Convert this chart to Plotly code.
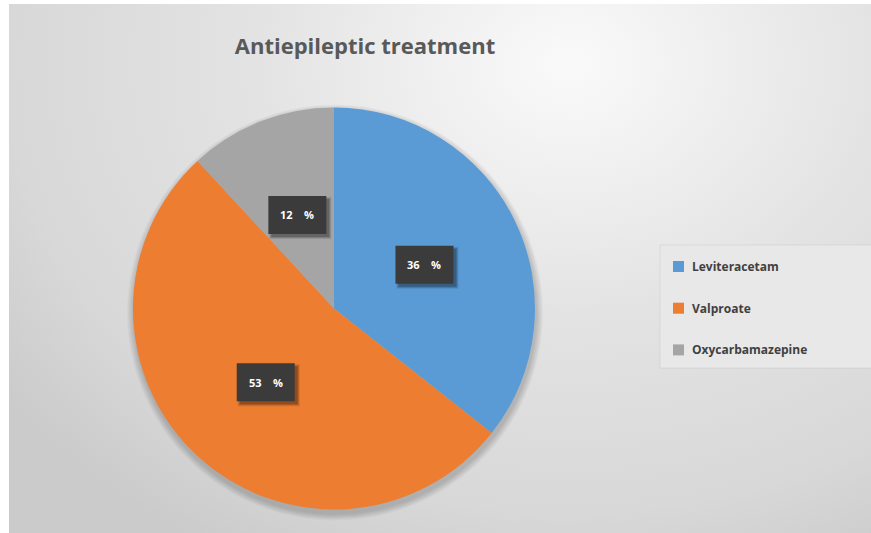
import base64
import math
import plotly.graph_objects as go

# --- data ---
labels = ["Leviteracetam", "Valproate", "Oxycarbamazepine"]
values = [36, 53, 12]
colors = ["#5B9BD5", "#ED7D31", "#A5A5A5"]
title_text = "Antiepileptic treatment"

# --- canvas geometry (pixels) ---
W, H = 871, 533
ML, MT = 9, 4
PW, PH = W - ML, H - MT          # plot area size
CX, CY, R = 325.0, 304.5, 201.0  # pie centre / radius inside the plot area
BLEED = 30                       # backdrop runs past the right/bottom edges

# soft radial backdrop, light near the top and greying toward the edges
bg_stops = [(0.0, "#fafafa"), (0.45, "#e3e3e3"), (0.8, "#d8d8d8"), (1.0, "#cbcbcb")]
stop_tags = "".join(f'<stop offset="{o}" stop-color="{c}"/>' for o, c in bg_stops)
BW_IMG, BH_IMG = PW + BLEED, PH + BLEED
bg_svg = (
    f'<svg xmlns="http://www.w3.org/2000/svg" width="{BW_IMG}" height="{BH_IMG}" '
    f'viewBox="0 0 {BW_IMG} {BH_IMG}" preserveAspectRatio="none"><defs>'
    f'<radialGradient id="g" gradientUnits="userSpaceOnUse" cx="0" cy="0" r="1" '
    f'gradientTransform="translate(560 60) scale(700 560)">{stop_tags}</radialGradient>'
    f'</defs><rect x="0" y="0" width="{BW_IMG}" height="{BH_IMG}" fill="url(#g)"/></svg>'
)
bg_uri = "data:image/svg+xml;base64," + base64.b64encode(bg_svg.encode()).decode()

fig = go.Figure()

# soft drop shadow under the pie
for k in range(1, 8):
    rr = R + k
    ts = [2 * math.pi * i / 180 for i in range(181)]
    fig.add_trace(go.Scatter(
        x=[CX + 1 + rr * math.sin(t) for t in ts],
        y=[CY + 4 + rr * math.cos(t) for t in ts],
        mode="lines", fill="toself", line=dict(width=0),
        fillcolor="rgba(0,0,0,0.028)", hoverinfo="skip", showlegend=False,
    ))

fig.add_trace(go.Pie(
    labels=labels, values=values, sort=False, direction="clockwise",
    rotation=0, textinfo="none", hoverinfo="label+value",
    marker=dict(colors=colors, line=dict(width=0)),
    domain=dict(x=[(CX - R) / PW, (CX + R) / PW],
                y=[1 - (CY + R) / PH, 1 - (CY - R) / PH]),
    showlegend=False,
))

# white strips along the left and top edges of the page
shapes = [
    dict(type="rect", xref="paper", yref="paper", layer="below",
         x0=-ML / PW - 0.01, x1=0, y0=-0.1, y1=1 + MT / PH + 0.01,
         fillcolor="white", line=dict(width=0)),
    dict(type="rect", xref="paper", yref="paper", layer="below",
         x0=-ML / PW - 0.01, x1=1.1, y0=1, y1=1 + MT / PH + 0.01,
         fillcolor="white", line=dict(width=0)),
]
annotations = []

# value boxes placed halfway out along each slice's mid angle
total = sum(values)
cum = 0
BW, BH = 58, 38
for v in values:
    mid = (cum + v / 2) / total * 2 * math.pi
    cum += v
    px = CX + 0.5 * R * math.sin(mid)
    py = CY - 0.5 * R * math.cos(mid)
    for s, a in [(5, 0.10), (4, 0.15), (3, 0.20)]:
        shapes.append(dict(
            type="rect", xref="x", yref="y", layer="above",
            x0=px - BW / 2 + 3 - (s - 3), x1=px + BW / 2 + s,
            y0=py - BH / 2 + 3 - (s - 3), y1=py + BH / 2 + s,
            fillcolor=f"rgba(0,0,0,{a})", line=dict(width=0),
        ))
    shapes.append(dict(
        type="rect", xref="x", yref="y", layer="above",
        x0=px - BW / 2, x1=px + BW / 2, y0=py - BH / 2, y1=py + BH / 2,
        fillcolor="#3b3b3b", line=dict(width=0),
    ))
    annotations.append(dict(
        x=px, y=py, xref="x", yref="y", showarrow=False,
        text=f"<b>{v}&nbsp;&nbsp;&nbsp;&nbsp;%</b>",
        font=dict(family="Open Sans", size=11, color="white"),
    ))

# legend panel
LX0, LX1, LY0, LY1 = 651, 875, 241, 364
shapes.append(dict(
    type="rect", xref="x", yref="y", layer="above",
    x0=LX0, x1=LX1, y0=LY0, y1=LY1,
    fillcolor="#e8e8e8", line=dict(color="rgba(0,0,0,0.06)", width=1),
))
for i, (lab, col) in enumerate(zip(labels, colors)):
    yc = 262.5 + i * 41.7
    shapes.append(dict(
        type="rect", xref="x", yref="y", layer="above",
        x0=664, x1=675, y0=yc - 5.5, y1=yc + 5.5,
        fillcolor=col, line=dict(width=0),
    ))
    annotations.append(dict(
        x=681, y=yc, xref="x", yref="y", xanchor="left", yanchor="middle",
        showarrow=False, text=f"<b>{lab}</b>",
        font=dict(family="Open Sans", size=12, color="#404040"),
    ))

fig.update_layout(
    width=W, height=H,
    margin=dict(l=ML, r=0, t=MT, b=0),
    paper_bgcolor="#d0d0d0", plot_bgcolor="rgba(0,0,0,0)",
    xaxis=dict(range=[0, PW], visible=False, fixedrange=True),
    yaxis=dict(range=[PH, 0], visible=False, fixedrange=True),
    showlegend=False,
    images=[dict(
        source=bg_uri, xref="paper", yref="paper", x=0, y=1,
        sizex=BW_IMG / PW, sizey=BH_IMG / PH, xanchor="left", yanchor="top",
        sizing="stretch", layer="below",
    )],
    shapes=shapes, annotations=annotations,
    title=dict(
        text=f"<b>{title_text}</b>", x=365 / W, xanchor="center",
        y=1 - 46 / H, yanchor="middle",
        font=dict(family="Open Sans", size=22, color="#595959"),
    ),
)

fig.write_html("out.html")
